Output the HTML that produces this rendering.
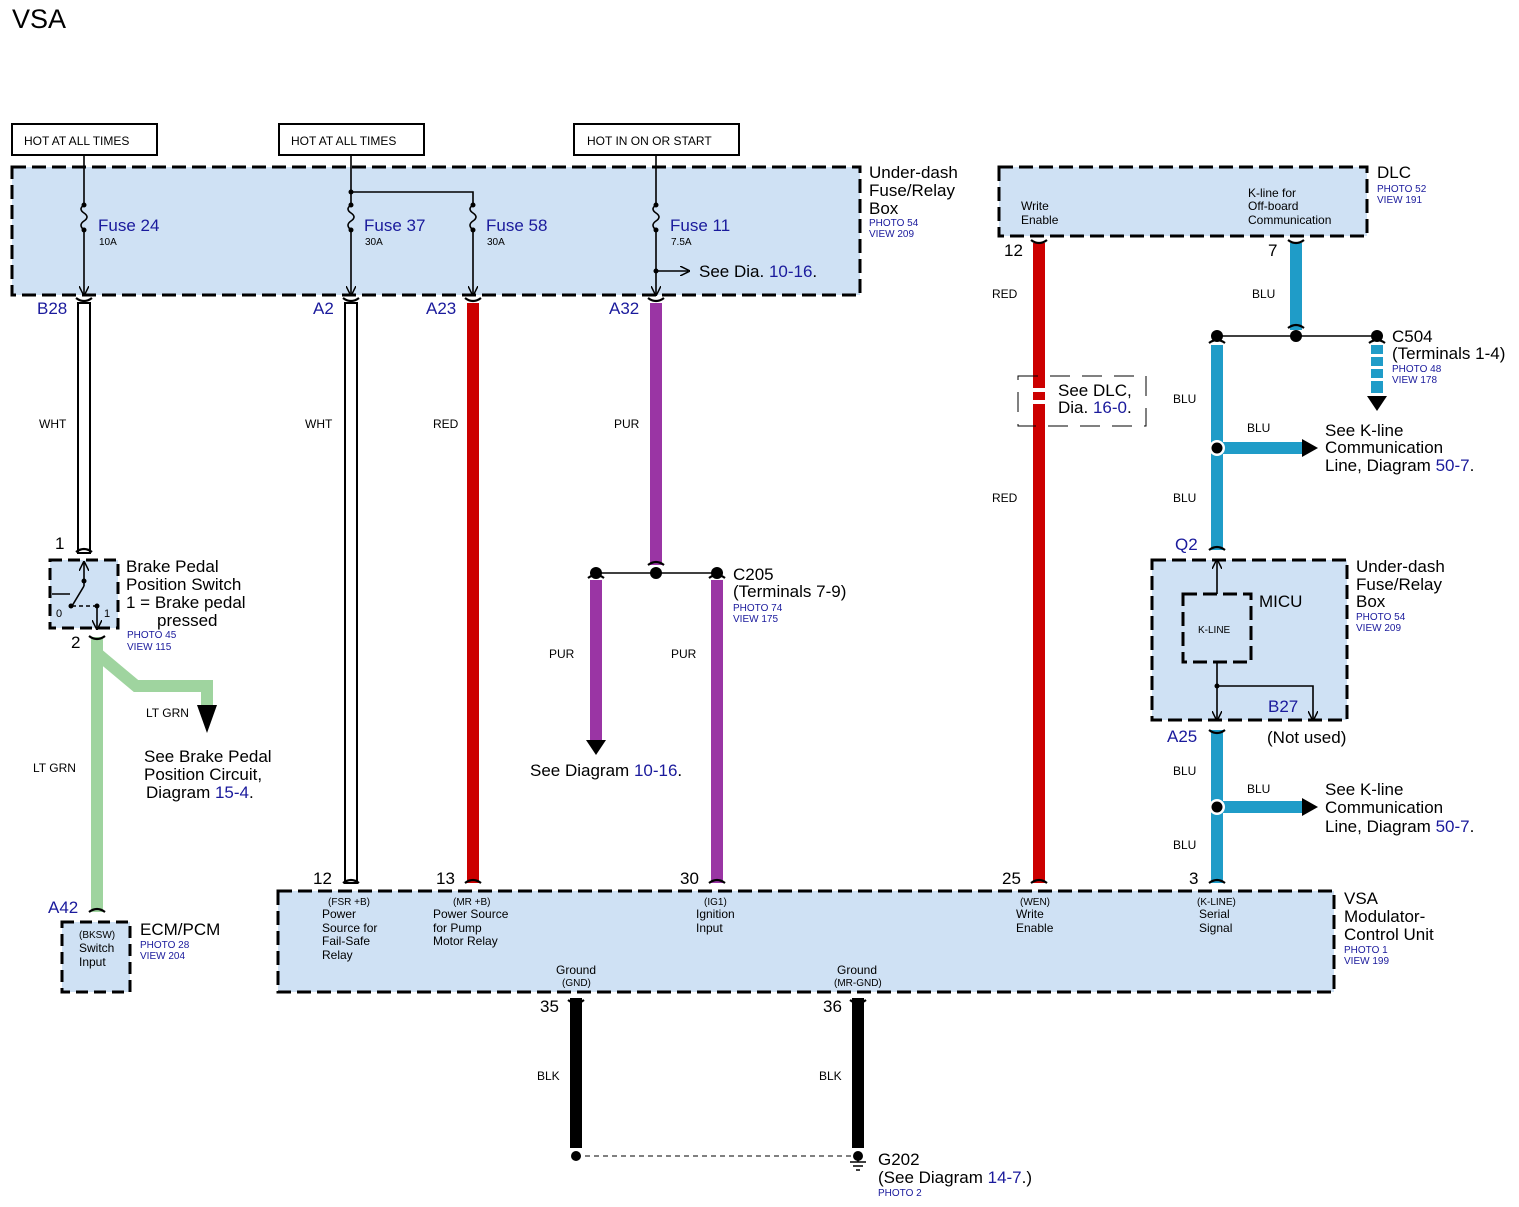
<!DOCTYPE html>
<html><head><meta charset="utf-8"><style>
html,body{margin:0;padding:0;background:#fff}
svg{display:block}
text{font-family:"Liberation Sans",Arial,sans-serif}
.t{font-size:17px;fill:#000}
.s{font-size:12px;fill:#000}
.xs{font-size:10px;fill:#000}
.b{fill:#1a1a9c}
.ph{font-size:10px;fill:#1a1a9c}
.box{fill:#cfe1f4;stroke:#000;stroke-width:3;stroke-dasharray:14,6}
.hot{fill:#fff;stroke:#000;stroke-width:2}
.ln{stroke:#000;stroke-width:1.6;fill:none}
.con{stroke:#000;stroke-width:2.2;fill:none}
</style></head><body>
<svg width="1519" height="1207" viewBox="0 0 1519 1207" xmlns="http://www.w3.org/2000/svg">
<defs>
<marker id="ar" markerWidth="10" markerHeight="10" refX="8" refY="5" orient="auto" markerUnits="userSpaceOnUse"><path d="M0,0 L10,5 L0,10" fill="none" stroke="#000" stroke-width="1.5"/></marker>
</defs>
<text x="12" y="28" style="font-size:27px">VSA</text>

<!-- HOT boxes -->
<rect class="hot" x="12" y="124" width="145" height="31"/><text class="s" x="24" y="145">HOT AT ALL TIMES</text>
<rect class="hot" x="279" y="124" width="145" height="31"/><text class="s" x="291" y="145">HOT AT ALL TIMES</text>
<rect class="hot" x="574" y="124" width="165" height="31"/><text class="s" x="587" y="145">HOT IN ON OR START</text>

<!-- Under-dash box -->
<rect class="box" x="12" y="167" width="848" height="128"/>
<g class="ln">
<path d="M84,155 V205 M84,230 V294" marker-end="url(#ar)"/>
<path d="M351,155 V205 M351,230 V294" marker-end="url(#ar)"/>
<path d="M351,192 H473 V205 M473,230 V294" marker-end="url(#ar)"/>
<path d="M656,155 V205 M656,230 V294" marker-end="url(#ar)"/>
<path d="M656,271 H688" marker-end="url(#ar)"/>
<path d="M84,205 q-6,4 0,8 q6,4 0,8 q-6,4 0,9 M351,205 q-6,4 0,8 q6,4 0,8 q-6,4 0,9 M473,205 q-6,4 0,8 q6,4 0,8 q-6,4 0,9 M656,205 q-6,4 0,8 q6,4 0,8 q-6,4 0,9"/>
</g>
<g fill="#000"><circle cx="84" cy="214" r="0"/>
<circle cx="84" cy="205" r="2.5"/><circle cx="84" cy="230" r="2.5"/>
<circle cx="351" cy="205" r="2.5"/><circle cx="351" cy="230" r="2.5"/><circle cx="351" cy="192" r="2.5"/>
<circle cx="473" cy="205" r="2.5"/><circle cx="473" cy="230" r="2.5"/>
<circle cx="656" cy="205" r="2.5"/><circle cx="656" cy="230" r="2.5"/><circle cx="656" cy="271" r="2.5"/></g>
<text class="t b" x="98" y="231">Fuse 24</text><text class="xs" x="99" y="245">10A</text>
<text class="t b" x="364" y="231">Fuse 37</text><text class="xs" x="365" y="245">30A</text>
<text class="t b" x="486" y="231">Fuse 58</text><text class="xs" x="487" y="245">30A</text>
<text class="t b" x="670" y="231">Fuse 11</text><text class="xs" x="671" y="245">7.5A</text>
<text class="t" x="699" y="277">See Dia. <tspan class="b">10-16</tspan>.</text>
<text class="t" x="869" y="178">Under-dash</text><text class="t" x="869" y="196">Fuse/Relay</text><text class="t" x="869" y="214">Box</text>
<text class="ph" x="869" y="226">PHOTO 54</text><text class="ph" x="869" y="237">VIEW 209</text>

<!-- DLC -->
<rect class="box" x="999" y="167" width="368" height="69"/>
<text class="s" x="1021" y="210">Write</text><text class="s" x="1021" y="224">Enable</text>
<text class="s" x="1248" y="197">K-line for</text><text class="s" x="1248" y="210">Off-board</text><text class="s" x="1248" y="224">Communication</text>
<text class="t" x="1377" y="178">DLC</text><text class="ph" x="1377" y="192">PHOTO 52</text><text class="ph" x="1377" y="203">VIEW 191</text>

<!-- Wires -->
<!-- white wires -->
<rect x="78" y="303" width="12" height="250" fill="#fff" stroke="#000" stroke-width="2"/>
<rect x="345" y="303" width="12" height="580" fill="#fff" stroke="#000" stroke-width="2"/>
<rect x="467" y="303" width="12" height="580" fill="#cc0000"/>
<rect x="650" y="303" width="12" height="262" fill="#9a35a4"/>
<rect x="590" y="580" width="12" height="160" fill="#9a35a4"/>
<path d="M586,740 H606 L596,755 Z" fill="#000"/>
<rect x="711" y="580" width="12" height="303" fill="#9a35a4"/>
<path class="ln" d="M596,573 H717"/>
<g fill="#000"><circle cx="596" cy="573" r="6"/><circle cx="656" cy="573" r="6"/><circle cx="717" cy="573" r="6"/></g>
<!-- red DLC -->
<rect x="1033" y="243" width="12" height="640" fill="#cc0000"/>
<rect x="1018" y="376" width="128" height="50" fill="none" stroke="#000" stroke-width="1" stroke-dasharray="20,12"/>
<rect x="1030" y="388" width="18" height="4" fill="#fff"/><rect x="1030" y="400" width="18" height="4" fill="#fff"/>
<rect x="1049" y="380" width="95" height="42" fill="#fff"/>
<text class="t" x="1058" y="396">See DLC,</text><text class="t" x="1058" y="413">Dia. <tspan class="b">16-0</tspan>.</text>
<!-- blue -->
<rect x="1290" y="243" width="12" height="87" fill="#1f9cc8"/>
<path class="ln" d="M1217,336 H1377"/>
<g fill="#000"><circle cx="1217" cy="336" r="6"/><circle cx="1296" cy="336" r="6"/><circle cx="1377" cy="336" r="6"/></g>
<rect x="1211" y="345" width="12" height="205" fill="#1f9cc8"/>
<g fill="#1f9cc8"><rect x="1371" y="345" width="12" height="9"/><rect x="1371" y="357" width="12" height="9"/><rect x="1371" y="369" width="12" height="9"/><rect x="1371" y="381" width="12" height="12"/></g>
<path d="M1367,396 H1387 L1377,411 Z" fill="#000"/>
<rect x="1217" y="442" width="88" height="12" fill="#1f9cc8"/><path d="M1302,439 L1318,448 L1302,457 Z" fill="#000"/>
<circle cx="1217" cy="448" r="8" fill="#fff"/><circle cx="1217" cy="448" r="5.5" fill="#000"/>
<rect x="1211" y="730" width="12" height="153" fill="#1f9cc8"/>
<rect x="1217" y="801" width="88" height="12" fill="#1f9cc8"/><path d="M1302,798 L1318,807 L1302,816 Z" fill="#000"/>
<circle cx="1217" cy="807" r="8" fill="#fff"/><circle cx="1217" cy="807" r="5.5" fill="#000"/>
<!-- green -->
<path d="M97,637 V912 M99,655 L136,686 H207 V706" stroke="#9fd49f" stroke-width="12" fill="none"/>
<path d="M197,705 H217 L207,733 Z" fill="#000"/>
<!-- black -->
<rect x="570" y="998" width="12" height="150" fill="#000"/>
<rect x="852" y="998" width="12" height="150" fill="#000"/>
<path d="M576,1156 H858" stroke="#000" stroke-width="1" stroke-dasharray="5,4"/>
<circle cx="576" cy="1156" r="5" fill="#000"/><circle cx="858" cy="1156" r="5" fill="#000"/>
<path d="M858,1156 V1162 M850,1162 H866 M853,1166 H863 M856,1170 H860" stroke="#000" stroke-width="1.5"/>

<!-- connector brackets -->
<g class="con">
<path d="M76,298 q8,6 16,0"/><path d="M343,298 q8,6 16,0"/><path d="M465,298 q8,6 16,0"/><path d="M648,298 q8,6 16,0"/>
<path d="M1031,240 q8,6 16,0"/><path d="M1288,240 q8,6 16,0"/>
<path d="M1288,328 q8,-6 16,0"/><path d="M1209,343 q8,-6 16,0"/><path d="M1369,343 q8,-6 16,0"/>
<path d="M76,552 q8,-6 16,0"/><path d="M89,636 q8,6 16,0"/>
<path d="M648,565 q8,-6 16,0"/><path d="M588,578 q8,-6 16,0"/><path d="M709,578 q8,-6 16,0"/>
<path d="M1209,550 q8,-6 16,0"/><path d="M1209,730 q8,6 16,0"/>
<path d="M89,912 q8,-6 16,0"/>
<path d="M343,883 q8,-6 16,0"/><path d="M465,883 q8,-6 16,0"/><path d="M709,883 q8,-6 16,0"/><path d="M1031,883 q8,-6 16,0"/><path d="M1209,883 q8,-6 16,0"/>
<path d="M568,1000 q8,6 16,0"/><path d="M850,1000 q8,6 16,0"/>
</g>

<!-- pin labels -->
<text class="t b" x="37" y="314">B28</text><text class="t b" x="313" y="314">A2</text><text class="t b" x="426" y="314">A23</text><text class="t b" x="609" y="314">A32</text>
<text class="t" x="1004" y="256">12</text><text class="t" x="1268" y="256">7</text>
<text class="t" x="55" y="549">1</text><text class="t" x="71" y="648">2</text>
<text class="t b" x="1175" y="550">Q2</text><text class="t b" x="1167" y="742">A25</text>
<text class="t b" x="48" y="913">A42</text>
<text class="t" x="313" y="884">12</text><text class="t" x="436" y="884">13</text><text class="t" x="680" y="884">30</text><text class="t" x="1002" y="884">25</text><text class="t" x="1189" y="884">3</text>
<text class="t" x="540" y="1012">35</text><text class="t" x="823" y="1012">36</text>

<!-- wire color labels -->
<g class="xs" style="font-size:12px">
<text x="39" y="428">WHT</text><text x="305" y="428">WHT</text><text x="433" y="428">RED</text><text x="614" y="428">PUR</text>
<text x="549" y="658">PUR</text><text x="671" y="658">PUR</text>
<text x="992" y="298">RED</text><text x="992" y="502">RED</text>
<text x="1252" y="298">BLU</text><text x="1173" y="403">BLU</text><text x="1247" y="432">BLU</text><text x="1173" y="502">BLU</text>
<text x="1173" y="775">BLU</text><text x="1247" y="793">BLU</text><text x="1173" y="849">BLU</text>
<text x="146" y="717">LT GRN</text><text x="33" y="772">LT GRN</text>
<text x="537" y="1080">BLK</text><text x="819" y="1080">BLK</text>
</g>

<!-- Brake switch -->
<rect x="50" y="560" width="68" height="68" fill="#cfe1f4" stroke="#000" stroke-width="3" stroke-dasharray="12,6"/>
<g class="ln"><path d="M84,586 V563" marker-end="url(#ar)"/><path d="M84,586 L72,606"/><path d="M52,594 H70"/><path d="M97,606 V628" marker-end="url(#ar)"/><path d="M72,606 L97,606" stroke-dasharray="4,3"/></g>
<g fill="#000"><circle cx="84" cy="581" r="2.5"/><circle cx="71" cy="606" r="2.5"/><circle cx="97" cy="606" r="2.5"/></g>
<text class="xs" x="56" y="617" style="font-size:11px">0</text><text class="xs" x="104" y="617" style="font-size:11px">1</text>
<text class="t" x="126" y="572">Brake Pedal</text><text class="t" x="126" y="590">Position Switch</text><text class="t" x="126" y="608">1 = Brake pedal</text><text class="t" x="157" y="626">pressed</text>
<text class="ph" x="127" y="638">PHOTO 45</text><text class="ph" x="127" y="650">VIEW 115</text>

<text class="t" x="144" y="762">See Brake Pedal</text><text class="t" x="144" y="780">Position Circuit,</text><text class="t" x="146" y="798">Diagram <tspan class="b">15-4</tspan>.</text>
<text class="t" x="530" y="776">See Diagram <tspan class="b">10-16</tspan>.</text>
<text class="t" x="733" y="580">C205</text><text class="t" x="733" y="597">(Terminals 7-9)</text>
<text class="ph" x="733" y="611">PHOTO 74</text><text class="ph" x="733" y="622">VIEW 175</text>
<text class="t" x="1392" y="342">C504</text><text class="t" x="1392" y="359">(Terminals 1-4)</text>
<text class="ph" x="1392" y="372">PHOTO 48</text><text class="ph" x="1392" y="383">VIEW 178</text>
<text class="t" x="1325" y="436">See K-line</text><text class="t" x="1325" y="453">Communication</text><text class="t" x="1325" y="471">Line, Diagram <tspan class="b">50-7</tspan>.</text>
<text class="t" x="1325" y="795">See K-line</text><text class="t" x="1325" y="813">Communication</text><text class="t" x="1325" y="832">Line, Diagram <tspan class="b">50-7</tspan>.</text>

<!-- MICU -->
<rect class="box" x="1152" y="560" width="195" height="160"/>
<rect x="1183" y="594" width="68" height="68" fill="none" stroke="#000" stroke-width="3" stroke-dasharray="14,6"/>
<text class="xs" x="1198" y="633">K-LINE</text>
<text class="t" x="1259" y="607">MICU</text>
<g class="ln"><path d="M1217,594 V561" marker-end="url(#ar)"/><path d="M1217,662 V719" marker-end="url(#ar)"/><path d="M1217,686 H1313 V719" marker-end="url(#ar)"/></g>
<circle cx="1217" cy="686" r="2.5"/>
<text class="t b" x="1268" y="712">B27</text><text class="t" x="1267" y="743">(Not used)</text>
<text class="t" x="1356" y="572">Under-dash</text><text class="t" x="1356" y="590">Fuse/Relay</text><text class="t" x="1356" y="607">Box</text>
<text class="ph" x="1356" y="620">PHOTO 54</text><text class="ph" x="1356" y="631">VIEW 209</text>

<!-- ECM -->
<rect x="62" y="922" width="68" height="70" fill="#cfe1f4" stroke="#000" stroke-width="3" stroke-dasharray="12,6"/>
<text class="xs" x="79" y="938">(BKSW)</text><text class="s" x="79" y="952">Switch</text><text class="s" x="79" y="966">Input</text>
<text class="t" x="140" y="935">ECM/PCM</text><text class="ph" x="140" y="948">PHOTO 28</text><text class="ph" x="140" y="959">VIEW 204</text>

<!-- VSA unit -->
<rect class="box" x="278" y="891" width="1056" height="101"/>
<g class="s">
<text class="xs" x="328" y="905">(FSR +B)</text><text x="322" y="918">Power</text><text x="322" y="932">Source for</text><text x="322" y="945">Fail-Safe</text><text x="322" y="959">Relay</text>
<text class="xs" x="453" y="905">(MR +B)</text><text x="433" y="918">Power Source</text><text x="433" y="932">for Pump</text><text x="433" y="945">Motor Relay</text>
<text class="xs" x="704" y="905">(IG1)</text><text x="696" y="918">Ignition</text><text x="696" y="932">Input</text>
<text class="xs" x="1020" y="905">(WEN)</text><text x="1016" y="918">Write</text><text x="1016" y="932">Enable</text>
<text class="xs" x="1197" y="905">(K-LINE)</text><text x="1199" y="918">Serial</text><text x="1199" y="932">Signal</text>
<text x="556" y="974">Ground</text><text class="xs" x="562" y="986">(GND)</text>
<text x="837" y="974">Ground</text><text class="xs" x="834" y="986">(MR-GND)</text>
</g>
<text class="t" x="1344" y="904">VSA</text><text class="t" x="1344" y="922">Modulator-</text><text class="t" x="1344" y="940">Control Unit</text>
<text class="ph" x="1344" y="953">PHOTO 1</text><text class="ph" x="1344" y="964">VIEW 199</text>

<text class="t" x="878" y="1165">G202</text><text class="t" x="878" y="1183">(See Diagram <tspan class="b">14-7</tspan>.)</text>
<text class="ph" x="878" y="1196">PHOTO 2</text>
</svg>
</body></html>
